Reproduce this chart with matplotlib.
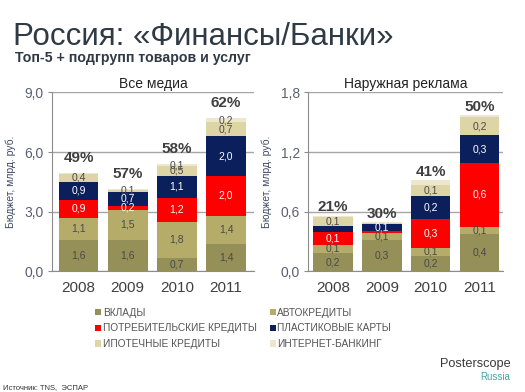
import numpy as np
import matplotlib
matplotlib.use("Agg")
import matplotlib.pyplot as plt

plt.rcParams['font.family'] = ['Liberation Sans', 'DejaVu Sans']

years = ["2008", "2009", "2010", "2011"]
series = ["ВКЛАДЫ", "АВТОКРЕДИТЫ", "ПОТРЕБИТЕЛЬСКИЕ КРЕДИТЫ",
          "ПЛАСТИКОВЫЕ КАРТЫ", "ИПОТЕЧНЫЕ КРЕДИТЫ", "ИНТЕРНЕТ-БАНКИНГ"]
colors = ["#958f58", "#b4ac68", "#ff0000", "#0b1f5c", "#ddd5a6", "#ece7cd"]
text_colors = ["#4a4a4a", "#4a4a4a", "white", "white", "#4a4a4a", "#4a4a4a"]

# Все медиа, млрд руб.
all_vklady = [1.6, 1.6, 0.7, 1.4]
all_auto = [1.1, 1.5, 1.8, 1.4]
all_consumer = [0.9, 0.2, 1.2, 2.0]
all_cards = [0.9, 0.7, 1.1, 2.0]
all_mortgage = [0.4, 0.1, 0.5, 0.7]
all_internet = [0.03, 0.03, 0.1, 0.2]
all_share = ["49%", "57%", "58%", "62%"]

# Наружная реклама, млрд руб.
ooh_vklady = [0.19, 0.32, 0.16, 0.38]
ooh_auto = [0.08, 0.07, 0.08, 0.07]
ooh_consumer = [0.13, 0.015, 0.29, 0.64]
ooh_cards = [0.06, 0.07, 0.23, 0.28]
ooh_mortgage = [0.09, 0.015, 0.11, 0.18]
ooh_internet = [0.01, 0.005, 0.05, 0.02]
ooh_share = ["21%", "30%", "41%", "50%"]

fig = plt.figure(figsize=(5.25, 3.92), dpi=100)


def panel(rect, data, share, ymax, ticks, title, min_label, pct_offset, xlim):
    ax = fig.add_axes(rect)
    x = np.arange(len(years))
    bottom = np.zeros(len(years))
    handles = []
    for vals, col, tc, name in zip(data, colors, text_colors, series):
        vals = np.array(vals)
        b = ax.bar(x, vals, 0.81, bottom=bottom, color=col, zorder=3, label=name)
        handles.append(b)
        for xi, v, b0 in zip(x, vals, bottom):
            if v >= min_label:
                ax.text(xi, b0 + v / 2, f"{v:.1f}".replace(".", ","), ha="center",
                        va="center", fontsize=7.5, color=tc, zorder=4)
        bottom += vals
    for xi, tot, s in zip(x, bottom, share):
        ax.annotate(s, (xi, tot), xytext=(0, pct_offset), textcoords="offset points",
                    ha="center", va="bottom", fontsize=11, fontweight="bold",
                    color="#404040")
    ax.set_ylim(0, ymax)
    ax.set_xlim(*xlim)
    ax.set_yticks(ticks)
    ax.set_yticklabels([f"{t:.1f}".replace(".", ",") for t in ticks])
    ax.set_xticks(x)
    ax.set_xticklabels(years)
    ax.yaxis.grid(True, color="#a6a6a6", lw=1, zorder=0)
    ax.tick_params(axis="y", length=3, color="#8c8c8c", labelsize=10,
                   labelcolor="#5a6270", pad=3)
    ax.tick_params(axis="x", length=0, labelsize=11, labelcolor="#404040", pad=7)
    for s in ["top", "right"]:
        ax.spines[s].set_visible(False)
    for s in ["left", "bottom"]:
        ax.spines[s].set_color("#8c8c8c")
    ax.set_ylabel("Бюджет, млрд. руб.", fontsize=7.5, color="#3d4a66", labelpad=6)
    ax.set_title(title, fontsize=10, color="#222222", pad=3)
    return ax, handles


ax1, handles = panel([0.099, 0.3074, 0.385, 0.457],
                     [all_vklady, all_auto, all_consumer, all_cards, all_mortgage, all_internet],
                     all_share, 9.0, [0.0, 3.0, 6.0, 9.0], "Все медиа", 0.08, 6, (-0.54, 3.57))
ax2, _ = panel([0.587, 0.3074, 0.371, 0.457],
               [ooh_vklady, ooh_auto, ooh_consumer, ooh_cards, ooh_mortgage, ooh_internet],
               ooh_share, 1.8, [0.0, 0.6, 1.2, 1.8], "Наружная реклама", 0.065, 1, (-0.51, 3.48))

order = [0, 2, 4, 1, 3, 5]
fig.legend([handles[i] for i in order], [series[i] for i in order],
           loc="upper left", bbox_to_anchor=(0.181, 0.215), ncol=2, frameon=False,
           fontsize=7.3, handlelength=0.6, handleheight=0.6, handletextpad=0.15,
           columnspacing=1.3, labelspacing=0.55, borderaxespad=0, borderpad=0,
           labelcolor="#555555")

fig.text(0.025, 0.945, "Россия: «Финансы/Банки»", fontsize=22.5, color="#2f3a45",
         va="top", ha="left")
fig.text(0.028, 0.853, "Топ-5 + подгрупп товаров и услуг", fontsize=10.2,
         fontweight="bold", color="#2f3a45", va="center", ha="left")
fig.text(0.972, 0.072, "Posterscope", fontsize=9.2, color="#3a3a3a", ha="right", va="center")
fig.text(0.972, 0.038, "Russia", fontsize=7, color="#4aa3a3", ha="right", va="center")
fig.text(0.006, 0.012, "Источник: TNS,  ЭСПАР", fontsize=5.5, color="#333333",
         ha="left", va="center")

fig.savefig("out.png", dpi=100)
